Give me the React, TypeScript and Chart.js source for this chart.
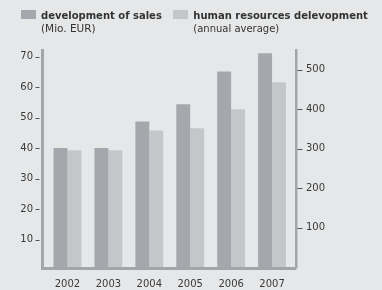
import React, { useEffect, useRef } from "react";
import { Chart, registerables } from "chart.js";

Chart.register(...registerables);

const years = ["2002", "2003", "2004", "2005", "2006", "2007"];
const salesValues = [40, 40, 48.7, 54.4, 65.1, 71.1];
const hrValues = [296, 296, 346, 352, 400, 468];
const salesTicks = [10, 20, 30, 40, 50, 60, 70];
const hrTicks = [100, 200, 300, 400, 500];

const BG = "#e6e7e8";
const DARK = "#a4a8ad";
const LIGHT = "#c4c7c9";
const AXIS = "#a2a6aa";
const TEXT = "#3a3a3a";
const FONT = "'DejaVu Sans', sans-serif";

const framePlugin = {
  id: "frame",
  afterDatasetsDraw(chart: any) {
    const { ctx, chartArea, scales } = chart;
    const { left, right, top, bottom } = chartArea;
    ctx.save();
    ctx.strokeStyle = AXIS;
    ctx.lineWidth = 3;
    ctx.beginPath();
    ctx.moveTo(left - 4.5, top);
    ctx.lineTo(left - 4.5, bottom - 1.5);
    ctx.lineTo(right + 3.75, bottom - 1.5);
    ctx.stroke();
    ctx.lineWidth = 2.5;
    ctx.beginPath();
    ctx.moveTo(right + 3.75, top);
    ctx.lineTo(right + 3.75, bottom - 1.5);
    ctx.stroke();
    ctx.strokeStyle = "#555";
    ctx.lineWidth = 1;
    salesTicks.forEach((v) => {
      const y = Math.round(scales.y.getPixelForValue(v)) + 0.5;
      ctx.beginPath();
      ctx.moveTo(left - 11.5, y);
      ctx.lineTo(left - 7.5, y);
      ctx.stroke();
    });
    hrTicks.forEach((v) => {
      const y = Math.round(scales.y1.getPixelForValue(v)) + 0.5;
      ctx.beginPath();
      ctx.moveTo(right + 5, y);
      ctx.lineTo(right + 10, y);
      ctx.stroke();
    });
    ctx.restore();
  },
};

export default function App() {
  const ref = useRef<HTMLCanvasElement>(null);
  useEffect(() => {
    document.body.style.margin = "0";
    document.body.style.background = BG;
    const chart = new Chart(ref.current as HTMLCanvasElement, {
      type: "bar",
      data: {
        labels: years,
        datasets: [
          {
            label: "development of sales",
            data: salesValues,
            backgroundColor: DARK,
            yAxisID: "y",
            categoryPercentage: 0.68,
            barPercentage: 1,
          },
          {
            label: "human resources delevopment",
            data: hrValues,
            backgroundColor: LIGHT,
            yAxisID: "y1",
            categoryPercentage: 0.68,
            barPercentage: 1,
          },
        ],
      },
      options: {
        animation: false,
        responsive: false,
        layout: { padding: { top: 49, left: 0, right: 0, bottom: 0 } },
        plugins: { legend: { display: false }, tooltip: { enabled: false } },
        scales: {
          x: {
            offset: true,
            grid: { display: false, drawTicks: false },
            border: { display: false },
            ticks: { padding: 8, color: TEXT, font: { family: FONT, size: 10 } },
            afterFit: (s: any) => {
              s.height = 17;
            },
          },
          y: {
            position: "left",
            min: 0,
            max: 72.5,
            afterBuildTicks: (s: any) => {
              s.ticks = salesTicks.map((v) => ({ value: v }));
            },
            grid: { display: false, drawTicks: false },
            border: { display: false },
            ticks: { padding: 14, color: TEXT, font: { family: FONT, size: 10 } },
            afterFit: (s: any) => {
              s.width = 47;
            },
          },
          y1: {
            position: "right",
            min: -7.5,
            max: 552.5,
            afterBuildTicks: (s: any) => {
              s.ticks = hrTicks.map((v) => ({ value: v }));
            },
            grid: { display: false, drawTicks: false },
            border: { display: false },
            ticks: { padding: 13.5, color: TEXT, font: { family: FONT, size: 10 } },
            afterFit: (s: any) => {
              s.width = 89.5;
            },
          },
        },
      },
      plugins: [framePlugin],
    });
    return () => chart.destroy();
  }, []);

  const legendText: React.CSSProperties = {
    position: "absolute",
    top: 9.3,
    fontFamily: FONT,
    fontSize: 10,
    lineHeight: "13px",
    color: "#333",
    whiteSpace: "nowrap",
  };

  return (
    <div style={{ position: "relative", width: 382, height: 290, background: BG, overflow: "hidden" }}>
      <canvas ref={ref} width={382} height={290} style={{ position: "absolute", left: 0, top: 0 }} />
      <div style={{ position: "absolute", left: 20.5, top: 10, width: 15, height: 9, background: DARK }} />
      <div style={{ ...legendText, left: 41 }}>
        <div style={{ fontWeight: "bold" }}>development of sales</div>
        <div style={{ fontSize: 10.5 }}>(Mio. EUR)</div>
      </div>
      <div style={{ position: "absolute", left: 172.5, top: 10, width: 15, height: 9, background: LIGHT }} />
      <div style={{ ...legendText, left: 193.3 }}>
        <div style={{ fontWeight: "bold" }}>human resources delevopment</div>
        <div>(annual average)</div>
      </div>
    </div>
  );
}
